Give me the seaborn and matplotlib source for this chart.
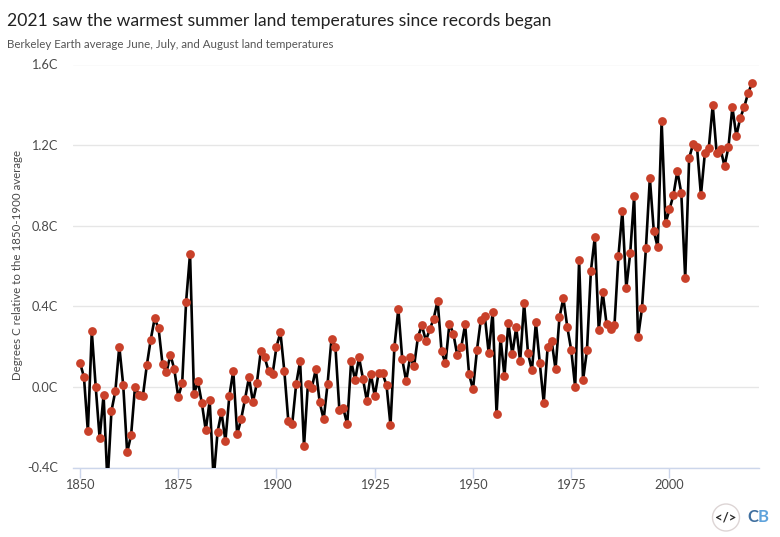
import matplotlib
matplotlib.use("Agg")
import matplotlib.pyplot as plt
from matplotlib.patches import Ellipse
import pandas as pd
import seaborn as sns

START_YEAR = 1850
END_YEAR = 2021

temps_1850s = [.12, .05, -.22, .275, 0, -.255, -.04, -.48, -.12, -.02]
temps_1860s = [.2, .008, -.325, -.24, 0, -.04, -.046, .107, .235, .34]
temps_1870s = [.29, .112, .072, .16, .087, -.05, .018, .423, .66, -.036]
temps_1880s = [.028, -.08, -.215, -.067, -.46, -.224, -.125, -.268, -.046, .08]
temps_1890s = [-.235, -.16, -.06, .048, -.076, .018, .176, .146, .077, .063]
temps_1900s = [.2, .27, .077, -.168, -.184, .013, .127, -.295, .016, -.003]
temps_1910s = [.087, -.077, -.161, .016, .24, .196, -.115, -.107, -.186, .13]
temps_1920s = [.033, .146, .041, -.07, .066, -.046, .071, .067, .008, -.19]
temps_1930s = [.196, .388, .137, .028, .15, .102, .249, .305, .23, .285]
temps_1940s = [.339, .428, .176, .117, .314, .265, .156, .196, .31, .063]
temps_1950s = [-.012, .181, .334, .352, .166, .374, -.135, .245, .053, .319]
temps_1960s = [.161, .295, .127, .418, .166, .083, .32, .117, -.078, .2]
temps_1970s = [.23, .088, .345, .44, .296, .182, -.002, .63, .033, .182]
temps_1980s = [.575, .744, .281, .471, .31, .286, .306, .648, .873, .49]
temps_1990s = [.663, .947, .246, .39, .688, 1.036, .774, .693, 1.319, .813]
temps_2000s = [.881, .952, 1.071, .962, .539, 1.136, 1.205, 1.19, .952, 1.16]
temps_2010s = [1.185, 1.398, 1.16, 1.18, 1.096, 1.19, 1.388, 1.245, 1.334, 1.388]
temps_2020s = [1.458, 1.507]

x_ticks = [1850, 1875, 1900, 1925, 1950, 1975, 2000]
y_ticks = [-0.4, 0.0, 0.4, 0.8, 1.2, 1.6]

temps = (temps_1850s + temps_1860s + temps_1870s + temps_1880s + temps_1890s + temps_1900s
         + temps_1910s + temps_1920s + temps_1930s + temps_1940s + temps_1950s + temps_1960s
         + temps_1970s + temps_1980s + temps_1990s + temps_2000s + temps_2010s + temps_2020s)
df = pd.DataFrame({"year": range(START_YEAR, END_YEAR + 1), "temp": temps})

W, H = 780, 537
sns.set_theme(style="white")
plt.rcParams["font.family"] = ["Lato", "DejaVu Sans"]

fig = plt.figure(figsize=(W / 100, H / 100), dpi=100)
ax = fig.add_axes([73 / W, 1 - 467.5 / H, (759 - 73) / W, (467.5 - 64.5) / H])

sns.lineplot(data=df, x="year", y="temp", color="black", linewidth=1.9, ax=ax, zorder=3)
sns.scatterplot(data=df, x="year", y="temp", color="#c9412a", s=40, linewidth=0, ax=ax, zorder=4)

ax.set_xlim(1850 - 7 / 3.93, 1850 + (759 - 80) / 3.93)
ax.set_ylim(-0.4, 1.6)
ax.set(xlabel=None, ylabel=None)
ax.set_xticks(x_ticks)
ax.set_yticks(y_ticks)
ax.set_xticklabels([str(x) for x in x_ticks])
ax.set_yticklabels(["%.1fC" % y for y in y_ticks])

ax.grid(axis="y", color="#e6e6e6", linewidth=1)
ax.set_axisbelow(True)
for s in ["top", "left", "right"]:
    ax.spines[s].set_visible(False)
ax.spines["bottom"].set_color("#ccd6eb")
ax.spines["bottom"].set_linewidth(1)
ax.spines["bottom"].set_zorder(2)
ax.tick_params(axis="x", length=7, width=1, color="#ccd6eb", labelcolor="#4a4a4a",
               labelsize=9.2, pad=1, bottom=True)
ax.tick_params(axis="y", length=0, labelcolor="#4a4a4a", labelsize=9.2, pad=11)

fig.text(7 / W, 1 - 21 / H, "2021 saw the warmest summer land temperatures since records began",
         fontsize=12.65, color="#222222", va="center", ha="left")
fig.text(7 / W, 1 - 44 / H, "Berkeley Earth average June, July, and August land temperatures",
         fontsize=8.3, color="#555555", va="center", ha="left")
fig.text(18 / W, 1 - 265 / H, "Degrees C relative to the 1850-1900 average", rotation=90,
         fontsize=8.3, color="#4a4a4a", va="center", ha="center")

# logo bottom right
fig.add_artist(Ellipse((726 / W, 1 - 517.5 / H), 27 / W, 27 / H, transform=fig.transFigure,
                       facecolor="white", edgecolor="#ddd5d5", linewidth=1))
fig.text(726 / W, 1 - 517.5 / H, "</>", fontsize=9.5, fontweight="bold", color="#2b2b2b",
         va="center", ha="center")
fig.text(747 / W, 1 - 517 / H, "C", fontsize=12, fontweight="bold", color="#3f6f9f",
         va="center", ha="left")
fig.text(758 / W, 1 - 517 / H, "B", fontsize=12, fontweight="bold", color="#5fa3dc",
         va="center", ha="left")

fig.savefig("out.png", dpi=100)
